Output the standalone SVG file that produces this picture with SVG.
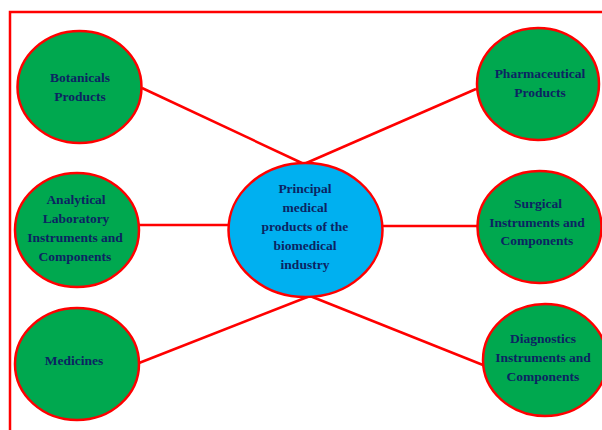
<svg xmlns="http://www.w3.org/2000/svg" width="602" height="430" viewBox="0 0 602 430">
<style>
.node{fill:#00a84f;stroke:#ff0000;stroke-width:2.5}
.hub{fill:#00b0f0;stroke:#ff0000;stroke-width:2.5}
.conn line{stroke:#ff0000;stroke-width:2.5}
text{font-family:"Liberation Serif","Times New Roman",serif;font-weight:bold;font-size:13.5px;fill:#0c2462;text-anchor:middle}
</style>
<rect width="602" height="430" fill="#ffffff"/>
<path d="M10,432 V12 H604" fill="none" stroke="#ff0000" stroke-width="2.5"/>
<g id="connectors" class="conn">
<line x1="142" y1="88" x2="304" y2="164"/>
<line x1="476" y1="89" x2="304" y2="164"/>
<line x1="139" y1="225" x2="229" y2="225"/>
<line x1="382" y1="226" x2="477" y2="226"/>
<line x1="139" y1="363" x2="310" y2="296"/>
<line x1="483" y1="365" x2="310" y2="296"/>
</g>
<g id="botanicals">
<ellipse class="node" cx="79.5" cy="87" rx="62" ry="56"/>
<text x="80" y="82">Botanicals</text>
<text x="80" y="101">Products</text>
</g>
<g id="pharmaceutical">
<ellipse class="node" cx="538" cy="84" rx="61" ry="56"/>
<text x="540" y="78">Pharmaceutical</text>
<text x="540" y="97">Products</text>
</g>
<g id="analytical">
<ellipse class="node" cx="77" cy="230" rx="62" ry="57"/>
<text x="76" y="204">Analytical</text>
<text x="76" y="223">Laboratory</text>
<text x="75" y="242">Instruments and</text>
<text x="75" y="261">Components</text>
</g>
<g id="surgical">
<ellipse class="node" cx="539.5" cy="227" rx="62" ry="56"/>
<text x="538" y="208">Surgical</text>
<text x="537" y="227">Instruments and</text>
<text x="537" y="245">Components</text>
</g>
<g id="medicines">
<ellipse class="node" cx="77" cy="364" rx="62" ry="56"/>
<text x="74" y="365">Medicines</text>
</g>
<g id="diagnostics">
<ellipse class="node" cx="545" cy="360" rx="62" ry="56"/>
<text x="543" y="343">Diagnostics</text>
<text x="543" y="362">Instruments and</text>
<text x="543" y="381">Components</text>
</g>
<g id="center">
<ellipse class="hub" cx="305.5" cy="230" rx="77" ry="67"/>
<text x="305" y="193">Principal</text>
<text x="305" y="212">medical</text>
<text x="305" y="231">products of the</text>
<text x="305" y="250">biomedical</text>
<text x="305" y="269">industry</text>
</g>
</svg>
